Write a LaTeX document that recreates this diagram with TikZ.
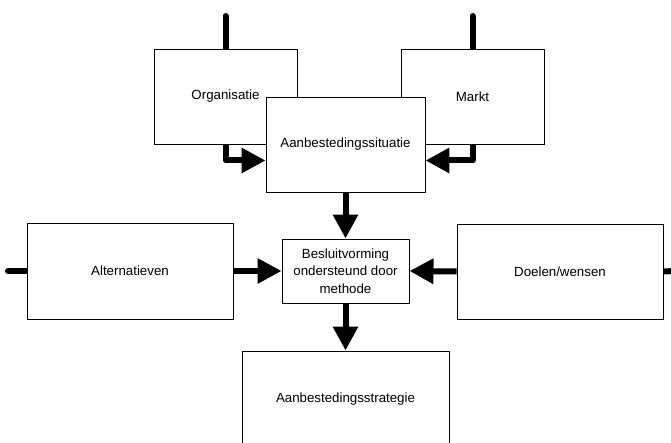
\documentclass[tikz,border=0pt]{standalone}
\usepackage{fontspec}
\setmainfont{Liberation Sans}
\usetikzlibrary{arrows.meta,backgrounds}
\begin{document}
\begin{tikzpicture}[x=1pt,y=-1pt,
  box/.style={draw=black,line width=0.9pt,fill=white,inner sep=2pt,align=center,
    font=\fontsize{13.3}{17.5}\selectfont},
  flow/.style={line width=6pt,line join=round,-{Triangle[length=24pt,width=24pt]}},
  stub/.style={line width=6pt,line cap=round}]
\clip (0,0) rectangle (671,443);
\node[box,minimum width=143pt,minimum height=95pt] (org) at (225.5,96.5) {Organisatie};
\node[box,minimum width=143pt,minimum height=95pt] (markt) at (472.5,96.5) {Markt};
\node[box,minimum width=159pt,minimum height=95pt] (aan) at (345.5,144.5) {Aanbestedingssituatie};
\node[box,minimum width=127pt,minimum height=64pt] (bes) at (345.5,271) {Besluitvorming\\ondersteund door\\methode};
\node[box,minimum width=206pt,minimum height=96pt] (alt) at (130,271) {Alternatieven};
\node[box,minimum width=206pt,minimum height=95pt] (doel) at (560,271.5) {Doelen/wensen};
\node[box,minimum width=207pt,minimum height=96pt] (str) at (345.5,399) {Aanbestedingsstrategie};
\coordinate (orgtop) at (225.5,16);
\coordinate (markttop) at (472.5,16);
\coordinate (altleft) at (8,271);
\coordinate (doelright) at (675,271);
\coordinate (aanwl) at ([yshift=-16pt]aan.west);
\coordinate (aanel) at ([yshift=-16pt]aan.east);
\begin{scope}[on background layer]
\fill[white] (0,0) rectangle (671,443);
\draw[stub] (orgtop) -- (org.north);
\draw[stub] (markttop) -- (markt.north);
\draw[stub] (altleft) -- (alt.west);
\draw[stub] (doelright) -- (doel.east);
\draw[flow] (org.south) |- (aanwl);
\draw[flow] (markt.south) |- (aanel);
\draw[flow] (aan.south) -- (bes.north);
\draw[flow] (alt.east) -- (bes.west);
\draw[flow] (doel.west) -- (bes.east);
\draw[flow] (bes.south) -- (str.north);
\end{scope}
\end{tikzpicture}
\end{document}
